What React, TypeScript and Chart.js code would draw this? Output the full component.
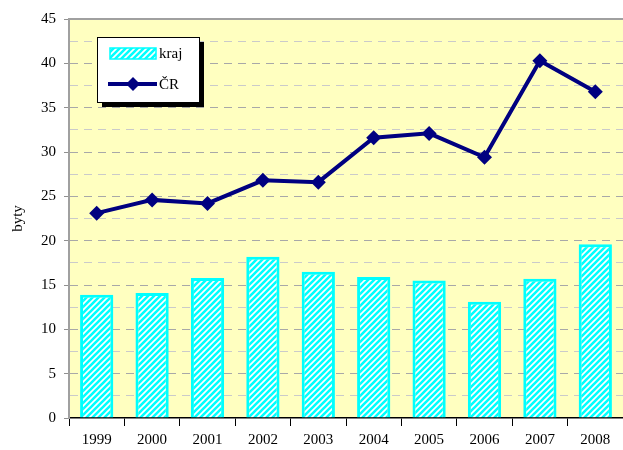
import React, { useEffect, useRef } from "react";
import { Chart, registerables } from "chart.js";

Chart.register(...registerables);

const years = ["1999", "2000", "2001", "2002", "2003", "2004", "2005", "2006", "2007", "2008"];
const krajValues = [13.9, 14.1, 15.8, 18.2, 16.5, 15.9, 15.5, 13.1, 15.7, 19.6];
const crValues = [23.1, 24.6, 24.2, 26.8, 26.6, 31.6, 32.1, 29.4, 40.3, 36.8];
const yTickLabels = ["0", "5", "10", "15", "20", "25", "30", "35", "40", "45"];

const FONT = "'Liberation Serif', 'Times New Roman', serif";

function makeHatch(): CanvasPattern | string {
  const c = document.createElement("canvas");
  c.width = 6;
  c.height = 6;
  const g = c.getContext("2d");
  if (!g) return "#00ffff";
  g.fillStyle = "#ffffff";
  g.fillRect(0, 0, 6, 6);
  g.strokeStyle = "#00ffff";
  g.lineWidth = 2.6;
  g.beginPath();
  g.moveTo(-1, 7);
  g.lineTo(7, -1);
  g.moveTo(-4, 4);
  g.lineTo(4, -4);
  g.moveTo(2, 10);
  g.lineTo(10, 2);
  g.stroke();
  const p = g.createPattern(c, "repeat");
  return p || "#00ffff";
}

export default function App() {
  const ref = useRef<HTMLCanvasElement | null>(null);

  useEffect(() => {
    document.body.style.margin = "0";
    const canvas = ref.current;
    if (!canvas) return;
    const hatch = makeHatch();

    const bgPlugin = {
      id: "bg",
      beforeDraw(chart: any) {
        const { ctx, chartArea } = chart;
        ctx.save();
        ctx.fillStyle = "#ffffc0";
        ctx.fillRect(chartArea.left, chartArea.top, chartArea.right - chartArea.left, chartArea.bottom - chartArea.top);
        ctx.restore();
      },
      afterDraw(chart: any) {
        const { ctx, chartArea } = chart;
        ctx.save();
        ctx.strokeStyle = "#a0a0a0";
        ctx.lineWidth = 2;
        ctx.beginPath();
        ctx.moveTo(chartArea.left, chartArea.top);
        ctx.lineTo(chartArea.right, chartArea.top);
        ctx.stroke();

        const lx = 97, ly = 37, lw = 102, lh = 65;
        ctx.fillStyle = "#000000";
        ctx.fillRect(lx + 5, ly + 5, lw, lh);
        ctx.fillStyle = "#ffffff";
        ctx.fillRect(lx, ly, lw, lh);
        ctx.strokeStyle = "#000000";
        ctx.lineWidth = 1;
        ctx.strokeRect(lx + 0.5, ly + 0.5, lw, lh);

        ctx.fillStyle = hatch as any;
        ctx.fillRect(110, 48, 46, 11);
        ctx.strokeStyle = "#00ffff";
        ctx.lineWidth = 1.5;
        ctx.strokeRect(110, 48, 46, 11);

        ctx.fillStyle = "#000000";
        ctx.font = "15px " + FONT;
        ctx.textBaseline = "middle";
        ctx.textAlign = "left";
        ctx.fillText("kraj", 159, 54);

        ctx.strokeStyle = "#000080";
        ctx.lineWidth = 4;
        ctx.beginPath();
        ctx.moveTo(108, 84);
        ctx.lineTo(157, 84);
        ctx.stroke();
        ctx.fillStyle = "#000080";
        ctx.beginPath();
        ctx.moveTo(133, 77);
        ctx.lineTo(140, 84);
        ctx.lineTo(133, 91);
        ctx.lineTo(126, 84);
        ctx.closePath();
        ctx.fill();
        ctx.fillStyle = "#000000";
        ctx.fillText("ČR", 159, 85);
        ctx.restore();
      },
    };

    const isMajor = (c: any) => c.tick && Math.abs(c.tick.value % 5) < 1e-9;

    const chart = new Chart(canvas, {
      type: "bar",
      data: {
        labels: years,
        datasets: [
          {
            type: "line",
            label: "ČR",
            data: crValues,
            borderColor: "#000080",
            backgroundColor: "#000080",
            borderWidth: 4,
            pointStyle: "rectRot",
            pointRadius: 7.5,
            pointBorderWidth: 0,
            pointBackgroundColor: "#000080",
            tension: 0,
            order: 0,
          } as any,
          {
            type: "bar",
            label: "kraj",
            data: krajValues,
            backgroundColor: hatch as any,
            borderColor: "#00ffff",
            borderWidth: 3,
            barPercentage: 0.6,
            categoryPercentage: 1,
            order: 1,
          },
        ],
      },
      options: {
        animation: false,
        responsive: false,
        maintainAspectRatio: false,
        layout: { autoPadding: false, padding: { top: 19, right: 0, bottom: 0, left: 0 } },
        plugins: {
          legend: { display: false },
          tooltip: { enabled: false },
        },
        scales: {
          x: {
            offset: true,
            grid: {
              display: true,
              offset: true,
              drawOnChartArea: false,
              drawTicks: true,
              tickLength: 8,
              color: "#000000",
              lineWidth: 1,
            },
            border: { display: true, color: "#000000", width: 1.5 },
            ticks: {
              color: "#000000",
              font: { family: FONT, size: 15 },
              padding: 5,
              maxRotation: 0,
            },
            afterFit(scale: any) {
              scale.height = 32;
              scale.paddingLeft = 0;
              scale.paddingRight = 0;
            },
          },
          y: {
            min: 0,
            max: 45,
            ticks: {
              stepSize: 2.5,
              color: "#000000",
              font: { family: FONT, size: 15 },
              padding: 8,
              callback: (v: any) => {
                const n = Number(v);
                if (n % 5 !== 0) return "";
                return yTickLabels[n / 5];
              },
            },
            grid: {
              color: (c: any) => (c.tick && c.tick.value === 0 ? "rgba(0,0,0,0)" : isMajor(c) ? "#a8a8a8" : "#cacaca"),
              tickColor: (c: any) => (isMajor(c) ? "#909090" : "rgba(0,0,0,0)"),
              lineWidth: 1,
              tickLength: 5,
            },
            border: { display: true, color: "#a0a0a0", width: 2, dash: [8, 6] },
            title: {
              display: true,
              text: "byty",
              color: "#000000",
              font: { family: FONT, size: 15 },
              padding: { top: 9, bottom: 0 },
            },
            afterFit(scale: any) {
              scale.width = 69;
            },
          },
        },
      },
      plugins: [bgPlugin],
    });

    return () => {
      chart.destroy();
    };
  }, []);

  return (
    <div style={{ position: "absolute", left: 0, top: 0, width: 623, height: 450 }}>
      <canvas ref={ref} width={623} height={450} style={{ width: 623, height: 450, display: "block" }} />
    </div>
  );
}
